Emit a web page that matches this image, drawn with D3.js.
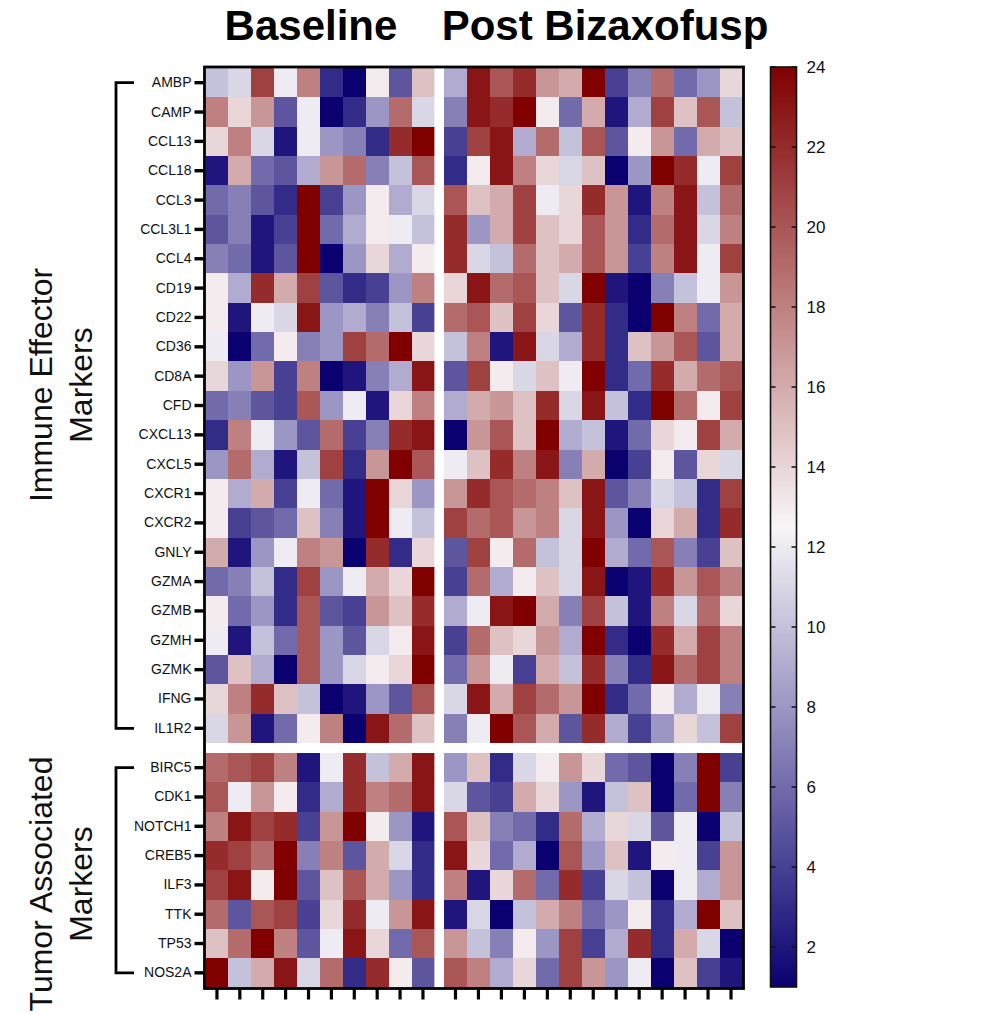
<!DOCTYPE html>
<html>
<head>
<meta charset="utf-8">
<script src="https://cdn.jsdelivr.net/npm/d3@7/dist/d3.min.js"></script>
<style>
  html, body { margin: 0; padding: 0; background: #fff; }
  svg { display: block; }
</style>
</head>
<body>
<svg id="chart" width="984" height="1015"></svg>
<script>
// ---------------- DATA ----------------
const immuneGenes = ["AMBP","CAMP","CCL13","CCL18","CCL3","CCL3L1","CCL4","CD19","CD22","CD36","CD8A","CFD","CXCL13","CXCL5","CXCR1","CXCR2","GNLY","GZMA","GZMB","GZMH","GZMK","IFNG","IL1R2"];
const tumorGenes = ["BIRC5","CDK1","NOTCH1","CREB5","ILF3","TTK","TP53","NOS2A"];
const groupTitles = ["Baseline", "Post Bizaxofusp"];
const groupLabels = [["Immune Effector","Markers"],["Tumor Associated","Markers"]];
const colorTicks = [2,4,6,8,10,12,14,16,18,20,22,24];

// Baseline samples (10 columns) – immune effector markers
const baselineImmune = [
  [10,11,21,12,18,3,1,13,5,15],
  [18,14,17,5,12,1,3,8,19,11],
  [14,18,11,2,12,8,7,3,22,24],
  [2,16,6,5,9,17,19,7,10,20],
  [6,7,5,3,24,4,8,13,9,11],
  [5,7,2,4,24,6,9,13,12,10],
  [7,6,2,5,24,1,8,14,9,13],
  [13,9,22,16,21,5,3,4,8,18],
  [13,2,12,11,23,8,9,7,10,4],
  [12,1,6,13,7,8,21,19,24,14],
  [14,8,17,4,18,1,2,7,9,23],
  [6,7,5,4,20,8,12,2,14,18],
  [3,18,12,8,5,19,4,7,22,23],
  [8,19,9,2,10,21,3,17,24,20],
  [13,9,16,4,12,6,2,24,14,8],
  [13,4,5,6,15,7,2,24,12,10],
  [16,2,8,12,18,17,1,22,3,14],
  [6,7,10,3,21,8,12,16,14,24],
  [13,6,8,3,20,5,4,17,15,22],
  [12,2,10,6,20,8,5,11,13,23],
  [5,15,9,1,20,8,11,13,14,24],
  [14,18,22,15,10,1,2,8,5,20],
  [11,17,2,6,13,18,1,23,19,15]
];
// Post Bizaxofusp samples (13 columns) – immune effector markers
const postImmune = [
  [9,23,20,22,17,16,24,4,7,19,6,8,14],
  [7,23,22,24,13,6,16,2,9,21,15,20,10],
  [4,21,23,9,19,10,20,5,13,17,6,16,15],
  [3,13,23,18,14,11,15,1,8,24,22,12,21],
  [20,15,16,21,12,14,22,17,2,18,23,10,19],
  [22,8,16,21,15,14,20,17,3,19,23,11,18],
  [22,11,10,19,15,16,20,17,4,18,23,12,21],
  [14,23,19,20,15,11,24,2,1,7,10,12,17],
  [19,20,15,21,14,5,22,3,1,24,18,6,16],
  [10,18,2,23,11,9,22,3,15,17,20,5,16],
  [5,21,13,11,15,12,24,3,6,22,16,19,20],
  [9,16,17,15,22,11,23,10,3,24,19,13,21],
  [1,17,20,15,24,9,10,2,6,14,13,21,16],
  [12,15,22,18,23,7,16,1,4,13,5,14,11],
  [17,22,20,19,18,15,23,5,7,11,10,3,21],
  [21,19,20,17,18,11,23,8,1,14,16,3,22],
  [5,21,13,19,10,11,24,9,6,20,7,4,15],
  [4,19,9,13,15,11,23,1,2,22,17,20,18],
  [9,12,23,24,16,7,21,10,2,18,11,19,14],
  [4,19,15,14,17,9,24,3,1,22,16,21,18],
  [6,17,12,4,16,10,22,7,3,23,19,21,18],
  [11,23,16,21,19,17,24,3,6,13,9,12,7],
  [7,12,24,20,16,5,22,9,4,8,14,10,21]
];
// Baseline – tumor associated markers
const baselineTumor = [
  [19,20,21,18,2,12,22,10,16,23],
  [20,12,17,13,3,9,22,18,19,23],
  [18,23,21,22,4,17,24,13,8,2],
  [22,21,19,24,7,18,5,16,11,3],
  [21,23,13,24,5,15,20,16,8,3],
  [19,5,20,21,4,14,22,12,17,23],
  [15,19,24,18,5,12,23,14,6,20],
  [24,10,16,23,11,19,3,22,13,5]
];
// Post Bizaxofusp – tumor associated markers
const postTumor = [
  [8,15,3,11,13,17,14,6,5,1,7,24,4],
  [11,5,4,16,14,8,2,10,15,1,6,24,7],
  [20,15,7,6,3,19,9,14,11,5,12,1,10],
  [23,14,6,9,1,20,8,15,2,13,12,4,17],
  [18,2,14,19,6,22,4,11,10,1,12,9,17],
  [2,11,1,10,16,18,6,8,13,3,9,24,15],
  [17,10,7,13,8,21,4,9,22,3,16,11,1],
  [20,18,9,14,6,21,17,8,12,1,15,4,2]
];

// ---------------- LAYOUT ----------------
const svg = d3.select("#chart");
const L = { left: 205.5, gapL: 434.4, gapR: 444, right: 742.5,
            top: 68, immBottom: 743, tumTop: 753, bottom: 987.5 };

const xBase = d3.scaleBand().domain(d3.range(baselineImmune[0].length)).range([L.left, L.gapL]);
const xPost = d3.scaleBand().domain(d3.range(postImmune[0].length)).range([L.gapR, L.right]);
const yImm = d3.scaleBand().domain(immuneGenes).range([L.top, L.immBottom]);
const yTum = d3.scaleBand().domain(tumorGenes).range([L.tumTop, L.bottom]);

const color = d3.scaleLinear().domain([1, 12.5, 24])
  .range(["#0a0070", "#f8f6f8", "#800000"]).interpolate(d3.interpolateRgb);

function drawBlock(data, genes, xs, ys) {
  const cells = [];
  data.forEach((row, i) => row.forEach((v, j) => cells.push({g: genes[i], j, v})));
  svg.append("g").selectAll("rect").data(cells).join("rect")
    .attr("x", d => xs(d.j))
    .attr("y", d => ys(d.g))
    .attr("width", xs.bandwidth() + 0.6)
    .attr("height", ys.bandwidth() + 0.6)
    .attr("fill", d => color(d.v))
    .attr("shape-rendering", "crispEdges");
}
drawBlock(baselineImmune, immuneGenes, xBase, yImm);
drawBlock(postImmune, immuneGenes, xPost, yImm);
drawBlock(baselineTumor, tumorGenes, xBase, yTum);
drawBlock(postTumor, tumorGenes, xPost, yTum);

// white gaps (row + column separators)
svg.append("rect").attr("x", L.gapL).attr("y", L.top).attr("width", L.gapR - L.gapL).attr("height", L.bottom - L.top).attr("fill", "#fff");
svg.append("rect").attr("x", L.left).attr("y", L.immBottom).attr("width", L.right - L.left).attr("height", L.tumTop - L.immBottom).attr("fill", "#fff");

// frame
svg.append("rect").attr("x", L.left - 1).attr("y", L.top - 1)
  .attr("width", L.right - L.left + 2).attr("height", L.bottom - L.top + 2)
  .attr("fill", "none").attr("stroke", "#000").attr("stroke-width", 2.8);

// Y axes (row labels)
function yAxis(scale) {
  const g = svg.append("g").attr("transform", `translate(${L.left - 1},0)`)
    .call(d3.axisLeft(scale).tickSize(10).tickPadding(3));
  g.select(".domain").remove();
  g.selectAll(".tick line").attr("stroke", "#000").attr("stroke-width", 3.4);
  g.selectAll(".tick text").attr("font-family", "Liberation Sans, Arial, sans-serif")
    .attr("font-size", 14).attr("fill", "#111");
}
yAxis(yImm);
yAxis(yTum);

// X ticks (no labels)
function xTicks(scale) {
  const g = svg.append("g").attr("transform", `translate(0,${L.bottom + 1})`)
    .call(d3.axisBottom(scale).tickSize(11).tickFormat(""));
  g.select(".domain").remove();
  g.selectAll(".tick line").attr("stroke", "#000").attr("stroke-width", 3.2);
}
xTicks(xBase);
xTicks(xPost);

// Titles
svg.append("text").attr("x", 311).attr("y", 40).attr("text-anchor", "middle")
  .attr("font-family", "Liberation Sans, Arial, sans-serif").attr("font-weight", "bold")
  .attr("font-size", 42).text(groupTitles[0]);
svg.append("text").attr("x", 605).attr("y", 40).attr("text-anchor", "middle")
  .attr("font-family", "Liberation Sans, Arial, sans-serif").attr("font-weight", "bold")
  .attr("font-size", 42).text(groupTitles[1]);

// Brackets
function bracket(scale, genes) {
  const y0 = scale(genes[0]) + scale.bandwidth() / 2;
  const y1 = scale(genes[genes.length - 1]) + scale.bandwidth() / 2;
  svg.append("path")
    .attr("d", `M134,${y0} H116 V${y1} H134`)
    .attr("fill", "none").attr("stroke", "#000").attr("stroke-width", 2.8);
}
bracket(yImm, immuneGenes);
bracket(yTum, tumorGenes);

// Group labels (rotated)
function groupLabel(lines, cy) {
  const g = svg.append("g");
  lines.forEach((t, i) => {
    g.append("text")
      .attr("transform", `translate(${52 + i * 40},${cy}) rotate(-90)`)
      .attr("text-anchor", "middle")
      .attr("font-family", "Liberation Sans, Arial, sans-serif")
      .attr("font-size", 32).attr("fill", "#111").text(t);
  });
}
groupLabel(groupLabels[0], 385);
groupLabel(groupLabels[1], 884);

// Colour bar
const cb = { x: 770.5, w: 26, top: 67, bottom: 987 };
const cbScale = d3.scaleLinear().domain([1, 24]).range([cb.bottom, cb.top]);
const defs = svg.append("defs");
const grad = defs.append("linearGradient").attr("id", "cbgrad")
  .attr("x1", 0).attr("y1", 1).attr("x2", 0).attr("y2", 0);
d3.range(0, 1.0001, 0.05).forEach(t => {
  grad.append("stop").attr("offset", t).attr("stop-color", color(1 + t * 23));
});
svg.append("rect").attr("x", cb.x).attr("y", cb.top).attr("width", cb.w)
  .attr("height", cb.bottom - cb.top).attr("fill", "url(#cbgrad)")
  .attr("stroke", "#111").attr("stroke-width", 1.6);
const cbAxis = svg.append("g").attr("transform", `translate(${cb.x + cb.w},0)`)
  .call(d3.axisRight(cbScale).tickValues(colorTicks).tickSize(0).tickPadding(10));
cbAxis.select(".domain").remove();
cbAxis.selectAll(".tick text").attr("font-family", "Liberation Sans, Arial, sans-serif")
  .attr("font-size", 17).attr("fill", "#111");
// inner tick marks on both edges
svg.append("g").selectAll("path").data(colorTicks).join("path")
  .attr("d", d => `M${cb.x},${cbScale(d)} h5 M${cb.x + cb.w - 5},${cbScale(d)} h5`)
  .attr("stroke", "#111").attr("stroke-width", 1.5);
</script>
</body>
</html>
